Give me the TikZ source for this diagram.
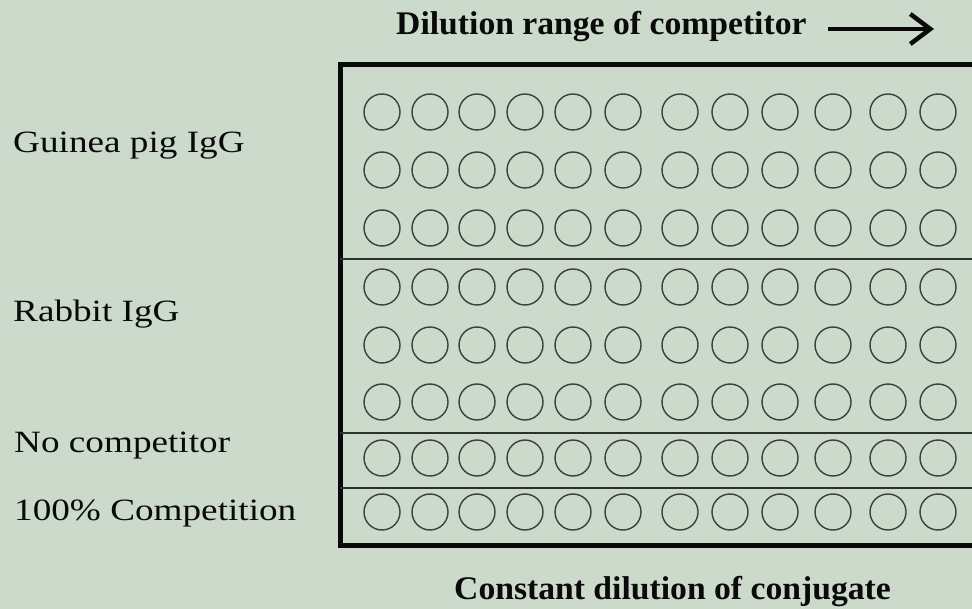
\documentclass[tikz,border=0pt]{standalone}
\usepackage{fontspec}
\setmainfont{Liberation Serif}
\newfontfamily\labelfont[FakeStretch=1.2]{Liberation Serif}
\newfontfamily\headfont[FakeStretch=1.02]{Liberation Serif}
\usetikzlibrary{arrows.meta}
\definecolor{bg}{RGB}{204,218,204}
\definecolor{wellgray}{RGB}{60,62,60}
\definecolor{ink}{RGB}{10,10,10}
\tikzset{
  well/.style={circle, draw=wellgray, line width=1.4pt, minimum size=36pt, inner sep=0pt},
  rowlabel/.style={anchor=base west, inner sep=0pt, text=ink, font=\labelfont\fontsize{31}{37}\selectfont},
  headlabel/.style={anchor=base west, inner sep=0pt, text=ink, font=\headfont\bfseries\fontsize{33}{40}\selectfont},
  frame/.style={draw=ink, line width=5pt},
  divider/.style={draw=ink!85, line width=2pt}
}
\begin{document}
\begin{tikzpicture}[x=1pt,y=-1pt]
\useasboundingbox (0,0) rectangle (972,609);
\fill[bg] (0,0) rectangle (972,609);

% plate frame (open on the right, cut by the picture edge)
\coordinate (tr) at (972,65);
\coordinate (tl) at (340,65);
\coordinate (bl) at (340,545);
\coordinate (br) at (972,545);
\draw[frame, line join=miter] (tr) -- (tl) -- (bl) -- (br);

% dividers
\coordinate (d1l) at (340,259); \coordinate (d1r) at (972,259);
\coordinate (d2l) at (340,433); \coordinate (d2r) at (972,433);
\coordinate (d3l) at (340,488); \coordinate (d3r) at (972,488);
\draw[divider] (d1l) -- (d1r);
\draw[divider] (d2l) -- (d2r);
\draw[divider] (d3l) -- (d3r);

% wells
\foreach \y [count=\r] in {112,170,228,287,345,402,458,512}{
  \foreach \x [count=\c] in {382,430,477,525,573,623,680,730,780,833,888,938}{
    \node[well] (w\r-\c) at (\x,\y) {};
  }
}

% labels
\node[headlabel] (title) at (396,35) {Dilution range of competitor};
\coordinate (arrS) at (828,29);
\coordinate (arrE) at (934,29);
\draw[draw=ink, line width=3.5pt, -{Straight Barb[length=20pt,width=30pt,line width=4.5pt]}] (arrS) -- (arrE);

\node[rowlabel] (gp) at (13,153) {Guinea pig IgG};
\node[rowlabel] (rb) at (13,322) {Rabbit IgG};
\node[rowlabel] (nc) at (14,453) {No competitor};
\node[rowlabel] (hc) at (14,520) {100\% Competition};

\node[headlabel] (bottom) at (454,599) {Constant dilution of conjugate};
\end{tikzpicture}
\end{document}
